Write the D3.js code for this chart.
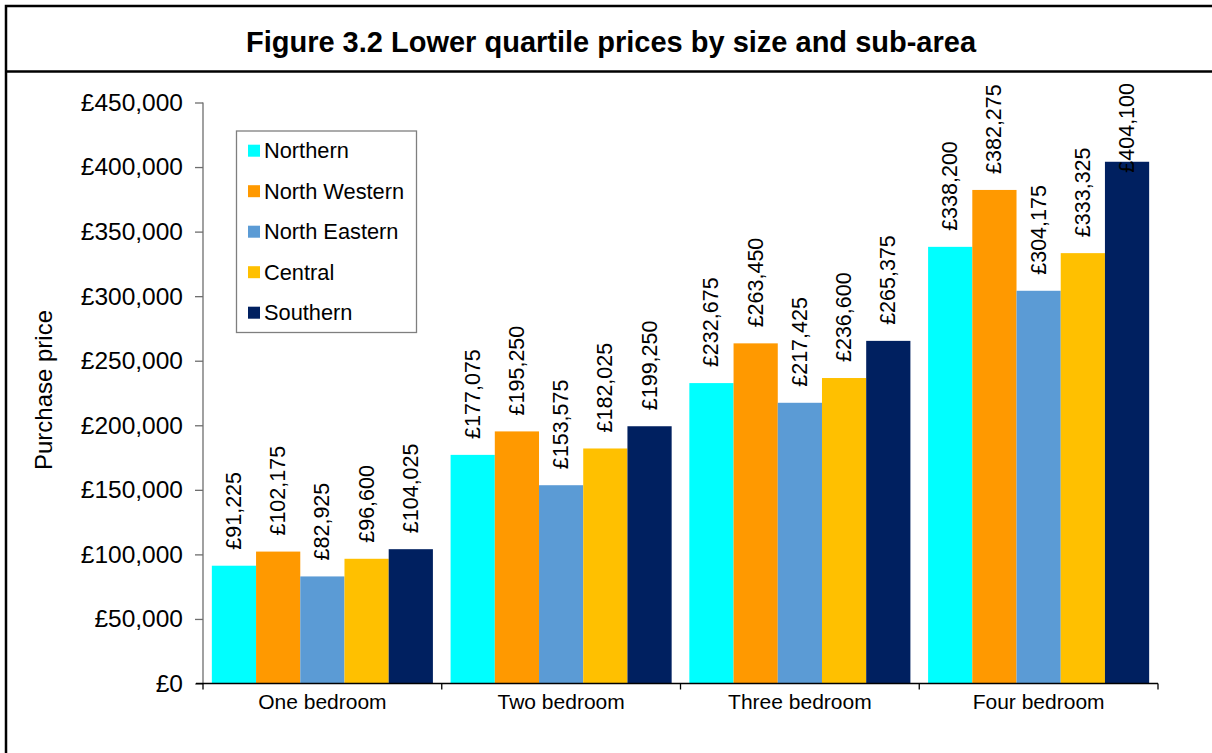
<!DOCTYPE html>
<html><head><meta charset="utf-8">
<script src="https://cdn.jsdelivr.net/npm/d3@7"></script>
<style>
html,body{margin:0;padding:0;background:#fff;}
svg{display:block;font-family:"Liberation Sans",Arial,sans-serif;}
</style></head>
<body><svg id="c" width="1212" height="753"></svg>
<script>
const titleText = "Figure 3.2 Lower quartile prices by size and sub-area";
const yAxisTitle = "Purchase price";
const categories = ["One bedroom","Two bedroom","Three bedroom","Four bedroom"];
const seriesNames = ["Northern","North Western","North Eastern","Central","Southern"];
const seriesColors = ["#00FFFF","#FF9900","#5B9BD5","#FFC000","#002060"];
const northern     = [91225, 177075, 232675, 338200];
const northWestern = [102175, 195250, 263450, 382275];
const northEastern = [82925, 153575, 217425, 304175];
const central      = [96600, 182025, 236600, 333325];
const southern     = [104025, 199250, 265375, 404100];
const yTicks = [0,50000,100000,150000,200000,250000,300000,350000,400000,450000];

const seriesValues = [northern, northWestern, northEastern, central, southern];

const svg = d3.select("#c");

// outer frame
svg.append("rect").attr("x",6).attr("y",6).attr("width",1240).attr("height",800)
  .attr("fill","none").attr("stroke","#000").attr("stroke-width",2.5);
svg.append("line").attr("x1",6).attr("x2",1240).attr("y1",71.5).attr("y2",71.5)
  .attr("stroke","#000").attr("stroke-width",2.5);

svg.append("text").attr("x",611).attr("y",42).attr("text-anchor","middle")
  .attr("dominant-baseline","central").attr("font-weight","bold").attr("font-size",29)
  .attr("fill","#000").text(titleText);

const plot = {left:203, right:1158, top:102.5, bottom:683.5};

const x0 = d3.scaleBand().domain(categories).range([plot.left, plot.right]).paddingInner(0).paddingOuter(0);
const x1 = d3.scaleBand().domain(seriesNames).range([0, x0.bandwidth()]).paddingInner(0).paddingOuter(0.2);
const y = d3.scaleLinear().domain([0,450000]).range([plot.bottom, plot.top]);

// y axis
const yAxis = d3.axisLeft(y).tickValues(yTicks).tickSize(8).tickPadding(12)
  .tickFormat(d => "£" + d3.format(",")(d));
const gy = svg.append("g").attr("transform",`translate(${plot.left},0)`).call(yAxis);
gy.select(".domain").attr("stroke","#6e6e6e").attr("stroke-width",1.3).attr("d",`M0,${plot.top}V${plot.bottom}`);
gy.selectAll(".tick line").attr("stroke","#6e6e6e").attr("stroke-width",1.3);
gy.selectAll(".tick text").attr("font-size",24.5).attr("fill","#000")
  .attr("font-family","'Liberation Sans',Arial,sans-serif");

// bars
const groups = svg.append("g").selectAll("g").data(categories).join("g")
  .attr("transform", d => `translate(${x0(d)},0)`);
groups.each(function(cat, ci){
  const g = d3.select(this);
  seriesNames.forEach((s, si) => {
    const v = seriesValues[si][ci];
    g.append("rect").attr("x", x1(s)).attr("width", x1.bandwidth())
      .attr("y", y(v)).attr("height", y(0)-y(v))
      .attr("fill", seriesColors[si]);
  });
});

// data labels
const labelG = svg.append("g");
categories.forEach((cat, ci) => {
  seriesNames.forEach((s, si) => {
    const v = seriesValues[si][ci];
    const cx = x0(cat) + x1(s) + x1.bandwidth()/2;
    const t = labelG.append("text").attr("font-size",21.5).attr("fill","#000")
      .attr("text-anchor","start").attr("dominant-baseline","central")
      .text("£" + d3.format(",")(v));
    const len = t.node().getComputedTextLength();
    let start = y(v) - 16;
    const minTop = 83;
    if (start - len < minTop) start = minTop + len;
    t.attr("transform", `translate(${cx},${start}) rotate(-90)`);
  });
});

// x axis
const xAxis = d3.axisBottom(x0).tickSize(0).tickPadding(10);
const gx = svg.append("g").attr("transform",`translate(0,${plot.bottom})`).call(xAxis);
gx.select(".domain").attr("stroke","#000").attr("stroke-width",1.5).attr("d",`M${plot.left-7},0H${plot.right}`);
gx.selectAll(".tick text").attr("font-size",21).attr("fill","#000").attr("dy","0.74em")
  .attr("font-family","'Liberation Sans',Arial,sans-serif");
// category boundary ticks
const bounds = categories.map(c => x0(c)).concat([x0(categories[categories.length-1]) + x0.bandwidth()]);
gx.selectAll("line.bt").data(bounds).join("line").attr("class","bt")
  .attr("x1", d=>d).attr("x2", d=>d).attr("y1",0).attr("y2",6)
  .attr("stroke","#000").attr("stroke-width",1.3);

// y axis title
svg.append("text").attr("transform","translate(43,390) rotate(-90)")
  .attr("text-anchor","middle").attr("dominant-baseline","central")
  .attr("font-size",24).attr("fill","#000").text(yAxisTitle);

// legend
const lg = svg.append("g");
lg.append("rect").attr("x",236.5).attr("y",131).attr("width",180).attr("height",201.5)
  .attr("fill","#fff").attr("stroke","#7f7f7f").attr("stroke-width",1.3);
const legY = d3.scalePoint().domain(seriesNames).range([150.7, 312.7]);
seriesNames.forEach((s, i) => {
  lg.append("rect").attr("x",248).attr("y",legY(s)-6).attr("width",12).attr("height",12)
    .attr("fill",seriesColors[i]);
  lg.append("text").attr("x",264).attr("y",legY(s)).attr("dominant-baseline","central")
    .attr("font-size",21.8).attr("fill","#000").text(s);
});
</script></body></html>
